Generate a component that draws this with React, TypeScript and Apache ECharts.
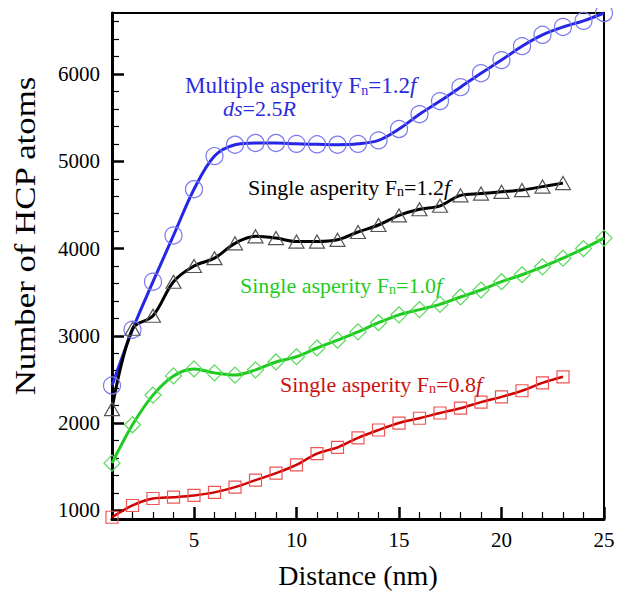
import React, { useEffect, useRef } from "react";
import * as echarts from "echarts";

const distance = [1, 2, 3, 4, 5, 6, 7, 8, 9, 10, 11, 12, 13, 14, 15, 16, 17, 18, 19, 20, 21, 22, 23, 24, 25];
const multiple12 = [2430, 3070, 3620, 4150, 4680, 5060, 5190, 5210, 5210, 5200, 5195, 5190, 5200, 5240, 5370, 5540, 5690, 5850, 6010, 6160, 6320, 6450, 6540, 6610, 6700];
const single12 = [2160, 3080, 3230, 3620, 3800, 3890, 4060, 4140, 4120, 4080, 4080, 4100, 4190, 4270, 4380, 4450, 4490, 4610, 4630, 4650, 4670, 4710, 4750];
const single10 = [1540, 1980, 2320, 2540, 2620, 2575, 2550, 2610, 2700, 2760, 2860, 2950, 3045, 3150, 3240, 3300, 3360, 3445, 3525, 3620, 3700, 3790, 3890, 4000, 4120];
const single08 = [920, 1055, 1135, 1150, 1170, 1205, 1265, 1345, 1425, 1520, 1650, 1720, 1830, 1920, 2000, 2055, 2115, 2170, 2240, 2300, 2370, 2460, 2530];

const xMajorTicks = [5, 10, 15, 20, 25];
const xMinorTicks = [2, 3, 4, 6, 7, 8, 9, 11, 12, 13, 14, 16, 17, 18, 19, 21, 22, 23, 24];
const yMajorTicks = [1000, 2000, 3000, 4000, 5000, 6000];
const yMinorTicks = [1200, 1400, 1600, 1800, 2200, 2400, 2600, 2800, 3200, 3400, 3600, 3800, 4200, 4400, 4600, 4800, 5200, 5400, 5600, 5800, 6200, 6400, 6600];

const FONT = "'Liberation Serif', 'Times New Roman', serif";

function pairs(vals: number[]) {
  return vals.map((v, i) => [distance[i], v]);
}

function label(main: string, val: string, color: string, x: number, y: number, size: number) {
  return {
    type: "text",
    x,
    y,
    z: 100,
    style: {
      text: `{a|${main}}{s|n}{a|=${val}}{i|f}`,
      textAlign: "left",
      textVerticalAlign: "middle",
      fill: color,
      rich: {
        a: { fontFamily: FONT, fontSize: size, lineHeight: size + 1, fill: color },
        s: { fontFamily: FONT, fontSize: 14, lineHeight: 2, verticalAlign: "bottom", fill: color },
        i: { fontFamily: FONT, fontSize: size, lineHeight: size + 1, fontStyle: "italic", fill: color },
      },
    },
  };
}

export default function App() {
  const ref = useRef<HTMLDivElement>(null);
  useEffect(() => {
    if (!ref.current) return;
    const chart = echarts.init(ref.current, null, { renderer: "svg" });
    const blue = "#2626e6";
    const green = "#1ecb1e";
    const red = "#d00000";
    const gridBox = { left: 112, right: 23, top: 13, bottom: 77 };
    const tickColor = "#000";
    const option: any = {
      animation: false,
      backgroundColor: "#fff",
      textStyle: { fontFamily: FONT },
      grid: [
        { ...gridBox, show: true, borderColor: "#000", borderWidth: 2, backgroundColor: "transparent" },
        { ...gridBox, show: false },
      ],
      xAxis: [
        {
          type: "value",
          gridIndex: 0,
          min: 1,
          max: 25,
          name: "Distance (nm)",
          nameLocation: "middle",
          nameGap: 42,
          nameTextStyle: { fontFamily: FONT, fontSize: 28, color: "#000" },
          axisLine: { show: true, lineStyle: { color: "#000", width: 3 } },
          axisTick: { show: true, inside: true, length: 12, customValues: xMajorTicks, lineStyle: { color: tickColor, width: 2.5 } },
          axisLabel: { customValues: xMajorTicks, formatter: (v: number) => String(v), fontFamily: FONT, fontSize: 21, color: "#000", margin: 10 },
          splitLine: { show: false },
        },
        {
          type: "value",
          gridIndex: 1,
          min: 1,
          max: 25,
          position: "bottom",
          axisLine: { show: false },
          axisTick: { show: true, inside: true, length: 7, customValues: xMinorTicks, lineStyle: { color: tickColor, width: 1.2 } },
          axisLabel: { show: false },
          splitLine: { show: false },
        },
      ],
      yAxis: [
        {
          type: "value",
          gridIndex: 0,
          min: 900,
          max: 6700,
          axisLine: { show: true, lineStyle: { color: "#000", width: 3 } },
          axisTick: { show: true, inside: true, length: 12, customValues: yMajorTicks, lineStyle: { color: tickColor, width: 2.5 } },
          axisLabel: { customValues: yMajorTicks, formatter: (v: number) => String(v), fontFamily: FONT, fontSize: 21, color: "#000", margin: 12 },
          splitLine: { show: false },
        },
        {
          type: "value",
          gridIndex: 1,
          min: 900,
          max: 6700,
          position: "left",
          axisLine: { show: false },
          axisTick: { show: true, inside: true, length: 7, customValues: yMinorTicks, lineStyle: { color: tickColor, width: 1.2 } },
          axisLabel: { show: false },
          splitLine: { show: false },
        },
      ],
      series: [
        {
          name: "Multiple asperity Fn=1.2f",
          type: "line",
          xAxisIndex: 0,
          yAxisIndex: 0,
          data: pairs(multiple12),
          smooth: 0.35,
          clip: false,
          symbol: "circle",
          symbolSize: 17,
          lineStyle: { color: blue, width: 3 },
          itemStyle: { color: "rgba(0,0,0,0)", borderColor: "#7a7af0", borderWidth: 1.2 },
        },
        {
          name: "Single asperity Fn=1.2f",
          type: "line",
          xAxisIndex: 0,
          yAxisIndex: 0,
          data: pairs(single12),
          smooth: 0.35,
          clip: false,
          symbol: "triangle",
          symbolSize: [15, 13],
          lineStyle: { color: "#000", width: 3 },
          itemStyle: { color: "rgba(0,0,0,0)", borderColor: "#555", borderWidth: 1.2 },
        },
        {
          name: "Single asperity Fn=1.0f",
          type: "line",
          xAxisIndex: 0,
          yAxisIndex: 0,
          data: pairs(single10),
          smooth: 0.35,
          clip: false,
          symbol: "diamond",
          symbolSize: [16, 16],
          lineStyle: { color: green, width: 3 },
          itemStyle: { color: "rgba(0,0,0,0)", borderColor: "#5ad85a", borderWidth: 1.2 },
        },
        {
          name: "Single asperity Fn=0.8f",
          type: "line",
          xAxisIndex: 0,
          yAxisIndex: 0,
          data: pairs(single08),
          smooth: 0.35,
          clip: false,
          symbol: "rect",
          symbolSize: 12,
          lineStyle: { color: red, width: 2.5 },
          itemStyle: { color: "rgba(0,0,0,0)", borderColor: "#ee5555", borderWidth: 1.2 },
        },
      ],
      graphic: [
        {
          type: "text",
          x: 25,
          y: 236,
          rotation: Math.PI / 2,
          scaleX: 1.2,
          style: { text: "Number of HCP atoms", fontFamily: FONT, fontSize: 29, fill: "#000", textAlign: "center", textVerticalAlign: "middle" },
        },
        label("Multiple asperity F", "1.2", "#2b2bdd", 185, 85, 23),
        {
          type: "text",
          x: 223,
          y: 108,
          z: 100,
          style: {
            text: "{i|ds}{a|=2.5}{i|R}",
            textAlign: "left",
            textVerticalAlign: "middle",
            fill: "#2b2bdd",
            rich: {
              a: { fontFamily: FONT, fontSize: 22, fill: "#2b2bdd" },
              i: { fontFamily: FONT, fontSize: 22, fontStyle: "italic", fill: "#2b2bdd" },
            },
          },
        },
        label("Single asperity F", "1.2", "#000", 248, 187, 22),
        label("Single asperity F", "1.0", "#22cc22", 240, 285, 22),
        label("Single asperity F", "0.8", "#cc1111", 280, 384, 22),
      ],
    };
    chart.setOption(option);
    return () => chart.dispose();
  }, []);
  return <div ref={ref} style={{ width: 627, height: 596, marginLeft: -8, marginTop: -8 }} />;
}
